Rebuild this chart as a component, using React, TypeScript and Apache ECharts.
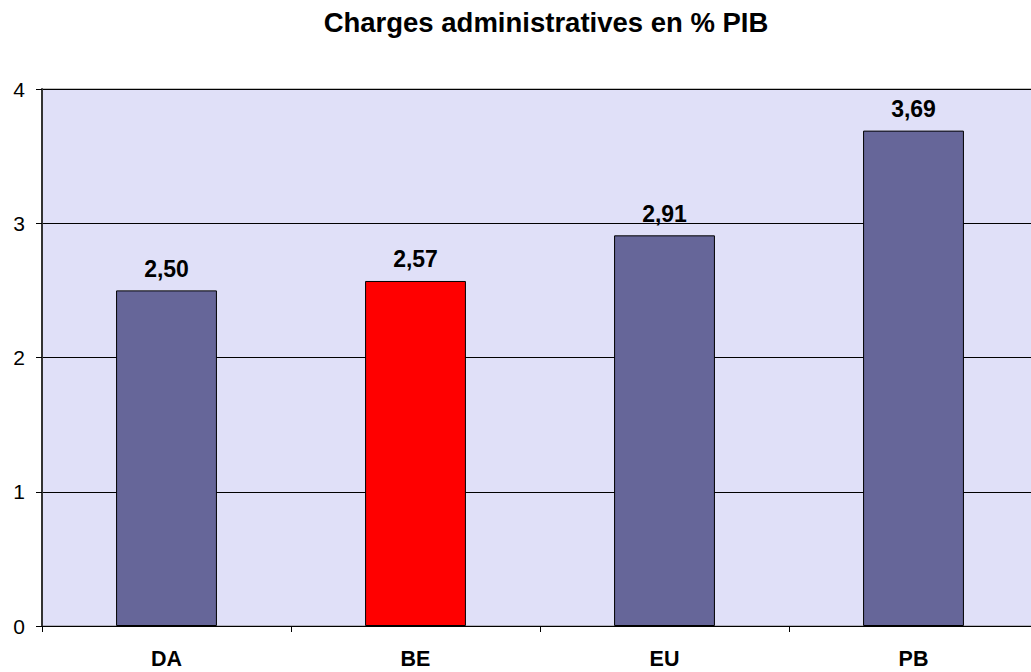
import React, { useEffect, useRef } from "react";
import * as echarts from "echarts";

const categories = ["DA", "BE", "EU", "PB"];
const values = [2.5, 2.57, 2.91, 3.69];
const barColors = ["#666699", "#FF0000", "#666699", "#666699"];
const yTicks = [0, 1, 2, 3, 4];

const FONT = "'Liberation Sans', Arial, sans-serif";

export default function App() {
  const ref = useRef<HTMLDivElement>(null);
  useEffect(() => {
    if (!ref.current) return;
    const chart = echarts.init(ref.current, undefined, { renderer: "svg" });
    chart.setOption({
      animation: false,
      backgroundColor: "#ffffff",
      title: {
        text: "Charges administratives en % PIB",
        left: 541,
        textAlign: "center",
        top: 3,
        textStyle: { fontFamily: FONT, fontSize: 27.5, fontWeight: "bold", color: "#000" },
      },
      grid: {
        left: 42,
        top: 89,
        width: 996,
        height: 537,
        show: true,
        backgroundColor: "#E0E0F8",
        borderColor: "#808080",
        borderWidth: 1,
      },
      xAxis: {
        type: "category",
        data: categories,
        axisLine: { lineStyle: { color: "#000", width: 1 } },
        axisTick: { show: true, length: 6, lineStyle: { color: "#000" } },
        axisLabel: {
          margin: 22,
          fontFamily: FONT,
          fontSize: 21.5,
          fontWeight: "bold",
          color: "#000",
        },
      },
      yAxis: {
        type: "value",
        min: yTicks[0],
        max: yTicks[yTicks.length - 1],
        interval: 1,
        axisLine: { show: true, lineStyle: { color: "#333", width: 2 } },
        axisTick: { show: true, length: 6, lineStyle: { color: "#000" } },
        axisLabel: {
          margin: 17,
          fontFamily: FONT,
          fontSize: 21,
          color: "#000",
        },
        splitLine: { show: true, lineStyle: { color: "#000", width: 1 } },
      },
      series: [
        {
          type: "bar",
          data: values.map((v, i) => ({ value: v, itemStyle: { color: barColors[i] } })),
          barWidth: "40.5%",
          itemStyle: { borderColor: "#000", borderWidth: 1 },
          label: {
            show: true,
            position: "top",
            distance: 10,
            formatter: (p: any) => p.value.toFixed(2).replace(".", ","),
            fontFamily: FONT,
            fontSize: 23,
            fontWeight: "bold",
            color: "#000",
          },
        },
      ],
    });
    return () => chart.dispose();
  }, []);
  return (
    <div style={{ position: "absolute", left: 0, top: 0, width: 1031, height: 672, overflow: "hidden" }}>
      <div ref={ref} style={{ width: 1045, height: 672 }} />
    </div>
  );
}
